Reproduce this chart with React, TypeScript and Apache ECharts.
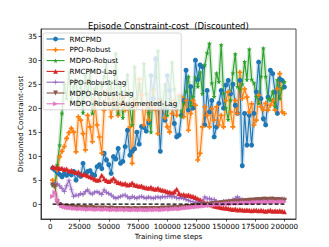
import React, { useEffect, useRef } from "react";
import * as echarts from "echarts";

const steps: number[] = Array.from({ length: 100 }, (_, i) => (i + 1) * 2000);

const rmcpmd = [
  7.5, 7.1, 6.6, 6.2, 5.7, 6.3, 6.0, 6.5, 6.1, 6.8,
  5.0, 6.2, 5.8, 8.5, 6.4, 6.8, 7.0, 6.2, 6.0, 7.8,
  8.2, 7.4, 10.6, 9.2, 8.2, 6.4, 9.9, 9.4, 11.6, 8.5,
  8.9, 12.0, 15.4, 10.2, 11.0, 11.5, 15.0, 12.5, 16.2, 16.0,
  15.2, 17.0, 26.8, 22.0, 30.3, 21.0, 11.0, 20.0, 17.5, 26.8,
  23.7, 20.5, 16.8, 14.0, 14.4, 18.5, 21.6, 27.9, 19.6, 24.5,
  20.0, 30.0, 26.0, 29.0, 28.6, 16.5, 23.7, 19.2, 21.6, 14.0,
  16.1, 21.0, 23.7, 20.0, 24.8, 25.8, 23.0, 25.0, 20.6, 18.9,
  25.8, 8.0, 18.9, 12.3, 18.5, 12.3, 18.9, 23.4, 29.6, 22.0,
  17.8, 16.5, 22.3, 27.9, 27.2, 23.4, 18.9, 26.1, 25.8, 24.4,
];

const ppoRobust = [
  5.0, 3.7, 7.1, 9.9, 11.0, 12.0, 13.7, 14.9, 15.8, 15.0,
  10.9, 18.2, 17.5, 14.7, 11.3, 18.5, 16.1, 13.0, 21.6, 16.5,
  14.0, 10.6, 19.6, 23.4, 21.3, 18.2, 22.0, 20.3, 18.5, 21.0,
  22.3, 19.6, 21.0, 16.1, 8.5, 21.6, 20.3, 26.1, 22.7, 16.5,
  21.0, 17.5, 20.3, 23.7, 19.6, 14.7, 21.6, 20.3, 18.0, 16.1,
  15.0, 18.9, 21.6, 18.5, 22.7, 22.3, 18.2, 21.6, 15.4, 18.9,
  21.6, 20.6, 9.2, 10.6, 16.1, 20.3, 18.5, 16.1, 19.9, 17.5,
  20.3, 16.5, 18.5, 16.1, 21.6, 23.4, 19.2, 16.1, 21.6, 18.9,
  27.5, 22.0, 24.0, 22.3, 19.2, 20.9, 16.5, 17.5, 22.7, 20.3,
  19.6, 21.0, 19.6, 20.6, 21.6, 19.6, 24.0, 27.2, 19.2, 18.9,
];

const mdpoRobust = [
  4.0, 3.7, 8.2, 12.3, 18.9, 25.0, 22.0, 27.5, 21.5, 24.5,
  26.0, 20.5, 25.5, 19.0, 27.0, 22.5, 28.0, 18.9, 24.0, 25.0,
  21.0, 24.5, 26.5, 29.4, 22.0, 25.5, 20.0, 31.4, 18.9, 24.5,
  18.0, 23.5, 27.0, 20.0, 16.5, 28.6, 22.0, 25.0, 21.0, 29.3,
  23.0, 19.0, 15.0, 24.0, 26.5, 32.0, 22.0, 20.5, 25.0, 18.5,
  22.0, 29.6, 24.0, 20.0, 22.4, 18.3, 21.0, 23.5, 26.6, 20.5,
  22.4, 26.4, 24.5, 27.5, 23.0, 29.0, 31.5, 33.5, 25.2, 22.4,
  27.3, 25.5, 33.2, 23.1, 20.0, 17.6, 21.7, 27.3, 31.3, 24.5,
  23.8, 25.0, 29.7, 25.9, 32.3, 26.0, 25.2, 22.4, 21.0, 26.6,
  32.5, 26.6, 22.0, 21.7, 23.5, 20.3, 25.9, 22.0, 24.2, 25.5,
];

const rmcpmdLag = [
  7.8, 7.6, 7.7, 7.4, 7.5, 7.2, 7.3, 6.9, 7.0, 6.8,
  6.6, 6.7, 6.3, 6.1, 6.2, 5.9, 5.7, 5.5, 5.2, 5.0,
  5.1, 6.0, 5.3, 4.9, 4.7, 5.0, 5.4, 4.8, 4.5, 4.4,
  4.2, 4.3, 4.0, 4.1, 4.4, 4.0, 3.9, 3.7, 3.8, 3.5,
  3.4, 3.3, 3.5, 3.2, 3.1, 3.3, 3.0, 2.9, 2.8, 2.6,
  2.5, 2.3, 2.6, 3.1, 2.2, 1.9, 2.0, 1.8, 1.9, 1.7,
  1.6, 1.4, 1.1, 0.9, 0.6, 0.3, 0.2, 0.0, -0.2, -0.4,
  -0.5, -0.6, -0.7, -0.8, -0.8, -0.9, -1.0, -1.1, -1.0, -1.2,
  -1.1, -1.2, -1.3, -1.2, -1.3, -1.4, -1.3, -1.3, -1.4, -1.3,
  -1.4, -1.5, -1.4, -1.3, -1.5, -1.4, -1.5, -1.4, -1.5, -1.6,
];

const ppoRobustLag = [
  4.0, 4.4, 4.2, 3.8, 3.3, 2.6, 3.8, 5.0, 3.0, 1.6,
  1.9, 1.8, 2.2, 2.0, 2.6, 3.0, 2.3, 2.1, 2.5, 2.6,
  2.3, 2.0, 3.0, 2.4, 2.2, 1.9, 1.5, 1.2, 1.4, 1.6,
  1.8, 1.9, 1.5, 1.2, 1.6, 1.4, 1.2, 1.5, 1.6, 1.4,
  1.2, 1.5, 1.3, 1.2, 1.4, 1.5, 1.3, 1.6, 1.5, 1.6,
  1.7, 1.5, 1.6, 1.3, 1.2, 1.4, 1.2, 1.0, 0.8, 0.6,
  0.5, 0.3, 0.4, 0.2, 0.5, 1.5, 1.1, 1.2, 0.9, 1.0,
  0.5, 0.2, 0.4, 0.6, 0.5, 0.7, 0.6, 0.9, 1.2, 1.5,
  1.1, 0.9, 0.7, 0.6, 0.7, 0.6, 0.8, 0.7, 0.9, 0.8,
  0.9, 1.0, 0.8, 0.9, 1.1, 0.9, 1.0, 0.9, 1.1, 1.0,
];

const mdpoRobustLag = [
  4.0, 3.7, 0.5, -0.1, -0.4, -0.5, -0.6, -0.5, -0.6, -0.7,
  -0.6, -0.7, -0.7, -0.8, -0.7, -0.8, -0.8, -0.7, -0.8, -0.9,
  -0.8, -0.9, -0.8, -0.9, -0.9, -0.8, -0.9, -1.0, -0.9, -0.9,
  -0.9, -1.0, -0.9, -1.0, -1.0, -0.9, -1.0, -1.0, -0.9, -1.0,
  -0.9, -1.0, -0.9, -0.9, -1.0, -0.9, -0.9, -0.8, -0.9, -0.8,
  -0.8, -0.8, -0.7, -0.8, -0.7, -0.7, -0.6, -0.6, -0.5, -0.5,
  -0.4, -0.4, -0.3, -0.3, -0.2, -0.1, -0.1, 0.0, 0.1, 0.1,
  0.2, 0.2, 0.3, 0.3, 0.4, 0.4, 0.5, 0.5, 0.5, 0.6,
  0.6, 0.6, 0.7, 0.7, 0.8, 0.8, 0.8, 0.9, 0.9, 0.9,
  1.0, 1.0, 0.9, 1.0, 1.0, 0.9, 0.9, 0.9, 0.8, 0.8,
];

const mdpoAugLag = [
  1.6, 2.4, 0.8, 0.1, -0.4, -0.6, -0.7, -0.8, -0.8, -0.9,
  -0.9, -1.0, -0.9, -1.0, -1.0, -1.1, -1.0, -1.0, -1.1, -1.1,
  -1.0, -1.1, -1.1, -1.0, -1.1, -1.2, -1.1, -1.1, -1.2, -1.1,
  -1.1, -1.2, -1.1, -1.2, -1.2, -1.1, -1.2, -1.2, -1.1, -1.2,
  -1.2, -1.2, -1.1, -1.2, -1.1, -1.1, -1.2, -1.1, -1.1, -1.0,
  -1.1, -1.0, -1.0, -0.9, -1.0, -0.9, -0.8, -0.8, -0.7, -0.7,
  -0.6, -0.6, -0.5, -0.5, -0.4, -0.4, -0.3, -0.3, -0.2, -0.2,
  -0.1, -0.1, 0.0, 0.0, 0.1, 0.1, 0.1, 0.2, 0.2, 0.2,
  0.2, 0.3, 0.3, 0.3, 0.3, 0.3, 0.4, 0.4, 0.4, 0.4,
  0.4, 0.5, 0.4, 0.5, 0.5, 0.5, 0.4, 0.5, 0.5, 0.5,
];

const names = [
  "RMCPMD",
  "PPO-Robust",
  "MDPO-Robust",
  "RMCPMD-Lag",
  "PPO-Robust-Lag",
  "MDPO-Robust-Lag",
  "MDPO-Robust-Augmented-Lag",
];
const colors = ["#1f77b4", "#ff7f0e", "#2ca02c", "#d62728", "#9467bd", "#8c564b", "#e377c2"];
const symbols = [
  "circle",
  "path://M3.4,0H6.6V3.4H10V6.6H6.6V10H3.4V6.6H0V3.4H3.4Z",
  "path://M5,0L6.2,3.5L10,3.6L7,5.9L8.1,9.5L5,7.4L1.9,9.5L3,5.9L0,3.6L3.8,3.5Z",
  "triangle",
  "path://M4.3,0H5.7V4.3H10V5.7H5.7V10H4.3V5.7H0V4.3H4.3Z",
  "path://M0,0H10L5,10Z",
  "path://M0,0L10,5L0,10Z",
];
const limitLine = [[2000, 0], [200000, 0]];
const xTicks = [0, 25000, 50000, 75000, 100000, 125000, 150000, 175000, 200000];
const yTicks = [0, 5, 10, 15, 20, 25, 30, 35];

export default function App() {
  const ref = useRef<HTMLDivElement>(null);
  useEffect(() => {
    document.body.style.margin = "0";
    const chart = echarts.init(ref.current!, null, { renderer: "svg" });
    const all = [rmcpmd, ppoRobust, mdpoRobust, rmcpmdLag, ppoRobustLag, mdpoRobustLag, mdpoAugLag];
    const toPts = (arr: number[]) => arr.map((v, i) => [steps[i], v]);
    const font = "DejaVu Sans";
    const bands = all.map((arr, k) => ({
      type: "line",
      name: "band" + k,
      data: toPts(arr),
      symbol: "none",
      silent: true,
      z: 1,
      emphasis: { disabled: true },
      lineStyle: { color: colors[k], width: 4, opacity: 0.22 },
    }));
    const lines = all.map((arr, k) => ({
      type: "line",
      name: names[k],
      data: toPts(arr),
      symbol: symbols[k],
      symbolSize: 5,
      z: 2,
      emphasis: { disabled: true },
      itemStyle: { color: colors[k] },
      lineStyle: { color: colors[k], width: 1.1 },
    }));
    chart.setOption({
      animation: false,
      textStyle: { fontFamily: font },
      title: {
        text: "Episode Constraint-cost  (Discounted)",
        left: 88,
        top: 21,
        padding: 0,
        textStyle: { fontSize: 8.5, fontWeight: "normal", color: "#000", fontFamily: font },
      },
      legend: {
        data: names,
        orient: "vertical",
        left: 43,
        top: 33,
        padding: [2, 4, 2, 3],
        itemWidth: 18,
        itemHeight: 6,
        itemGap: 2.8,
        backgroundColor: "rgba(255,255,255,0.8)",
        borderColor: "#cccccc",
        borderWidth: 0.8,
        borderRadius: 2,
        lineStyle: { width: 1.1 },
        textStyle: { fontSize: 7.1, color: "#000", fontFamily: font, lineHeight: 8 },
        selectedMode: false,
      },
      grid: { left: 41, right: 33, top: 29, bottom: 28, show: true, borderColor: "#222", borderWidth: 0.8, backgroundColor: "transparent" },
      xAxis: {
        type: "value",
        min: -7900,
        max: 209900,
        name: "Training time steps",
        nameLocation: "middle",
        nameGap: 13.5,
        nameMoveOverlap: false,
        nameTextStyle: { fontSize: 7.1, color: "#000", fontFamily: font },
        splitLine: { show: false },
        axisLine: { show: true, onZero: false, lineStyle: { color: "#222", width: 0.8 } },
        axisTick: { show: true, length: 2.5, customValues: xTicks, lineStyle: { color: "#222", width: 0.8 } },
        axisLabel: { fontSize: 7.1, color: "#000", margin: 4, customValues: xTicks, formatter: (v: number) => String(v), fontFamily: font },
      },
      yAxis: {
        type: "value",
        min: -3.1,
        max: 36.5,
        name: "Discounted Constraint-cost",
        nameLocation: "middle",
        nameGap: 17,
        nameMoveOverlap: false,
        nameTextStyle: { fontSize: 7.1, color: "#000", fontFamily: font },
        splitLine: { show: false },
        axisLine: { show: true, onZero: false, lineStyle: { color: "#222", width: 0.8 } },
        axisTick: { show: true, length: 2.5, customValues: yTicks, lineStyle: { color: "#222", width: 0.8 } },
        axisLabel: { fontSize: 7.1, color: "#000", margin: 4, customValues: yTicks, formatter: (v: number) => String(v), fontFamily: font },
      },
      series: [
        ...bands,
        ...lines,
        {
          type: "line",
          name: "limit",
          data: limitLine,
          symbol: "none",
          z: 3,
          silent: true,
          emphasis: { disabled: true },
          lineStyle: { color: "#000", width: 1.1, type: [4, 2] },
        },
      ],
    });
    return () => chart.dispose();
  }, []);
  return <div ref={ref} style={{ position: "absolute", left: 0, top: 0, width: 329, height: 247 }} />;
}
